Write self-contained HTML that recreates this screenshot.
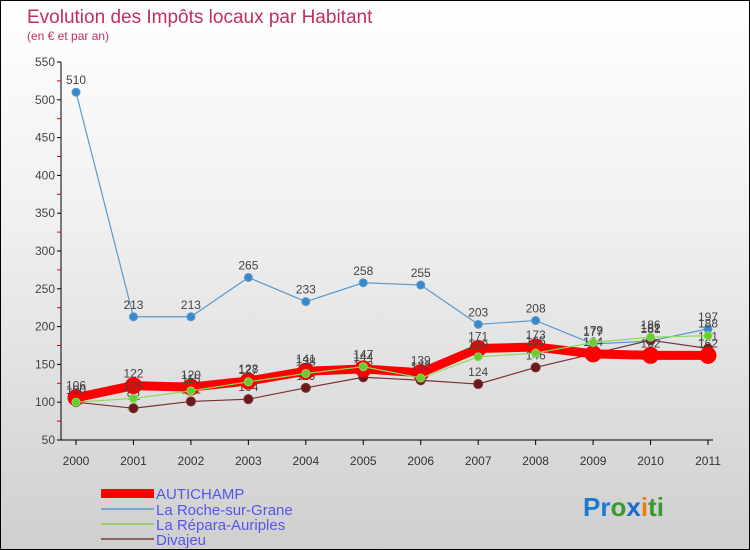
<!DOCTYPE html>
<html><head><meta charset="utf-8"><style>
body{margin:0}
#c{position:relative;width:748px;height:548px;border:1px solid #000;background:linear-gradient(#fff 0%,#f0f0f0 40%,#cfcfcf 100%);font-family:"Liberation Sans",sans-serif;overflow:hidden}
</style></head><body>
<div id="c">
<svg id="s" width="748" height="548" style="position:absolute;left:0;top:0">
<text x="26" y="22" font-size="19" fill="#c0305a">Evolution des Impôts locaux par Habitant</text>
<text x="26" y="39" font-size="12" fill="#c0305a">(en € et par an)</text>
<g id="g"></g>
<rect x="100" y="488" width="53" height="9" fill="#f00"/>
<rect x="100" y="507" width="53" height="2" fill="#7aa6c8"/>
<rect x="100" y="522" width="53" height="2" fill="#99d070"/>
<rect x="100" y="537" width="53" height="2" fill="#8a6060"/>
<text x="155" y="498" font-size="15" fill="#5555ee">AUTICHAMP</text>
<text x="155" y="514" font-size="15" fill="#5555ee">La Roche-sur-Grane</text>
<text x="155" y="529" font-size="15" fill="#5555ee">La Répara-Auriples</text>
<text x="155" y="544" font-size="15" fill="#5555ee">Divajeu</text>
<text x="582" y="515" font-size="26" font-weight="bold"><tspan fill="#1a7ad0">Pr</tspan><tspan fill="#3a9a30">o</tspan><tspan fill="#1a6ad0">x</tspan><tspan fill="#f07a10">i</tspan><tspan fill="#3a9a30">ti</tspan></text>
</svg>
</div>
<script>
const years=["2000","2001","2002","2003","2004","2005","2006","2007","2008","2009","2010","2011"];
const yTicks=[50,100,150,200,250,300,350,400,450,500,550];
const autichamp=[106,122,120,128,141,144,139,171,173,164,162,162];
const roche=[510,213,213,265,233,258,255,203,208,177,181,197];
const repara=[100,105,115,127,138,147,132,160,165,179,186,188];
const divajeu=[100,92,101,104,119,133,129,124,146,164,182,171];
const ns="http://www.w3.org/2000/svg";
const g=document.getElementById('g');
const X=i=>75+i*(707-75)/11;
const Y=v=>439-(v-50)*378/500;
function el(t,a,p){const e=document.createElementNS(ns,t);for(const k in a)e.setAttribute(k,a[k]);(p||g).appendChild(e);return e;}
let ax=el('line',{x1:60,y1:61,x2:60,y2:439,stroke:'#000'});


let bx=el('line',{x1:60,y1:439,x2:712,y2:439,stroke:'#000'});


yTicks.forEach(v=>{
 el('line',{x1:56,y1:Y(v),x2:60,y2:Y(v),stroke:'#000'});
 if(v<550)el('line',{x1:56,y1:Y(v+25),x2:60,y2:Y(v+25),stroke:'#d00'});
 const t=el('text',{x:54,y:Y(v)+4,'font-size':12,fill:'#444','text-anchor':'end'});t.textContent=v;
 
 
});
years.forEach((y,i)=>{
 el('line',{x1:X(i),y1:439,x2:X(i),y2:444,stroke:'#000'});
 const t=el('text',{x:X(i),y:464,'font-size':12,fill:'#333','text-anchor':'middle'});t.textContent=y;
 
 
});
function series(d,col,w,r,name,dot){
 const p=el('polyline',{points:d.map((v,i)=>X(i)+','+Y(v)).join(' '),fill:'none',stroke:col,'stroke-width':w,'stroke-linejoin':'round'});
 
 
 d.forEach((v,i)=>{
  const c=el('circle',{cx:X(i),cy:Y(v),r:r,fill:dot,stroke:col,'stroke-width':1});
  
  
  const t=el('text',{x:X(i),y:Y(v)-8,'font-size':12,fill:'#444','text-anchor':'middle'});t.textContent=v;
  
  
 });
}
series(roche,'#5a9ad0',1.2,4,'roche','#3a88c8');
series(divajeu,'#7a3030',1.2,4.5,'divajeu','#6a1a1a');
series(autichamp,'#ff0000',9,8,'autichamp','#ff0000');
series(repara,'#88dd55',1.2,4,'repara','#66cc33');
</script>
</body></html>
